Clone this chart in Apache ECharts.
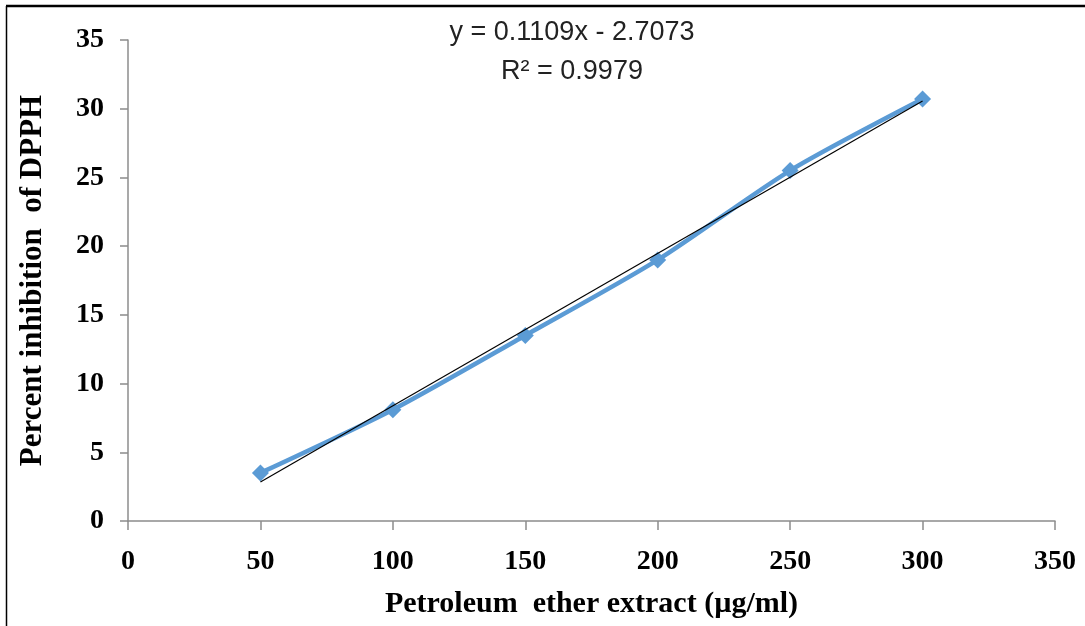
<!DOCTYPE html>
<html>
<head>
<meta charset="utf-8">
<script src="https://cdn.jsdelivr.net/npm/echarts@6/dist/echarts.min.js"></script>
<style>
  html, body { margin: 0; padding: 0; background: #fff; }
  #main { width: 1085px; height: 626px; }
</style>
</head>
<body>
<div id="main"></div>
<script>
// concentration (µg/ml) and measured % inhibition
var concentrations = [50, 100, 150, 200, 250, 300];
var inhibition = [3.5, 8.1, 13.5, 19.0, 25.5, 30.7];
// linear trendline end points
var trendPoints = [[50, 2.84], [300, 30.56]];
var equationLines = ['y = 0.1109x - 2.7073', 'R² = 0.9979'];

var chartDom = document.getElementById('main');
var myChart = echarts.init(chartDom);

var axisColor = '#8c8c8c';
var serif = '"Liberation Serif", "Times New Roman", serif';
var eqFont = '27px "Liberation Sans", Arial, sans-serif';

var option = {
  animation: false,
  backgroundColor: '#fff',
  grid: { left: 128, right: 30, top: 40, bottom: 105 },
  xAxis: {
    type: 'value',
    min: 0,
    max: 350,
    interval: 50,
    name: 'Petroleum  ether extract (µg/ml)',
    nameLocation: 'middle',
    nameGap: 68,
    nameTextStyle: { fontFamily: serif, fontWeight: 'bold', fontSize: 30, color: '#000' },
    axisLine: { show: true, lineStyle: { color: axisColor, width: 1.5 } },
    axisTick: { show: true, length: 9, lineStyle: { color: axisColor, width: 1.5 } },
    axisLabel: { fontFamily: serif, fontWeight: 'bold', fontSize: 28, color: '#000', margin: 27 },
    splitLine: { show: false }
  },
  yAxis: {
    type: 'value',
    min: 0,
    max: 35,
    interval: 5,
    name: 'Percent inhibition  of DPPH',
    nameLocation: 'middle',
    nameGap: 80,
    nameTextStyle: { fontFamily: serif, fontWeight: 'bold', fontSize: 31, color: '#000' },
    axisLine: { show: true, lineStyle: { color: axisColor, width: 1.5 } },
    axisTick: { show: true, length: 8, lineStyle: { color: axisColor, width: 1.5 } },
    axisLabel: { fontFamily: serif, fontWeight: 'bold', fontSize: 28, color: '#000', margin: 24 },
    splitLine: { show: false }
  },
  graphic: [
    { type: 'line', shape: { x1: 6, y1: 6, x2: 1085, y2: 6 }, style: { stroke: '#000', lineWidth: 2.5 } },
    { type: 'line', shape: { x1: 6.5, y1: 6, x2: 6.5, y2: 626 }, style: { stroke: '#000', lineWidth: 1.5 } },
    {
      type: 'text', x: 572, y: 33,
      style: { text: equationLines[0], align: 'center', verticalAlign: 'middle', font: eqFont, fill: '#222' }
    },
    {
      type: 'text', x: 572, y: 72,
      style: { text: equationLines[1], align: 'center', verticalAlign: 'middle', font: eqFont, fill: '#222' }
    }
  ],
  series: [
    {
      type: 'line',
      smooth: 0.25,
      data: concentrations.map(function (c, i) { return [c, inhibition[i]]; }),
      symbol: 'diamond',
      symbolSize: 17,
      lineStyle: { color: '#5b9bd5', width: 4.5 },
      itemStyle: { color: '#5b9bd5' },
      z: 2
    },
    {
      type: 'line',
      data: trendPoints,
      symbol: 'none',
      lineStyle: { color: '#000', width: 1.2 },
      z: 3
    }
  ]
};

myChart.setOption(option);
</script>
</body>
</html>
